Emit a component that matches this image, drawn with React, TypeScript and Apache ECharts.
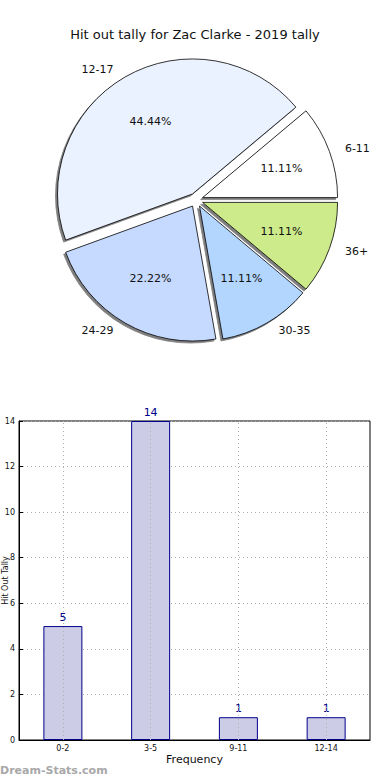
import React, { useEffect, useRef } from "react";
import * as echarts from "echarts";

const pieLabels = ["6-11", "12-17", "24-29", "30-35", "36+"];
const pieValues = [1, 4, 2, 1, 1];
const pieColors = ["#ffffff", "#ebf2ff", "#c6d9ff", "#b3d6ff", "#cdeb8b"];

const barCategories = ["0-2", "3-5", "9-11", "12-14"];
const barValues = [5, 14, 1, 1];

const titleText = "Hit out tally for Zac Clarke - 2019 tally";
const xName = "Frequency";
const yName = "Hit Out Tally";
const watermark = "Dream-Stats.com";

const FONT = "DejaVu Sans";

export default function App() {
  const ref = useRef<HTMLDivElement>(null);
  useEffect(() => {
    document.body.style.margin = "0";
    const chart = echarts.init(ref.current!, undefined, { renderer: "svg" });
    const R = 135;
    const center = [196, 200];
    const offset = 7;
    const total = pieValues.reduce((a, b) => a + b, 0);
    const option: any = {
      animation: false,
      backgroundColor: "#ffffff",
      title: {
        text: titleText,
        left: "center",
        top: 23,
        textStyle: { fontFamily: FONT, fontSize: 13, fontWeight: "normal", color: "#111" },
      },
      graphic: [
        {
          type: "text",
          left: 0,
          top: 765,
          style: {
            text: watermark,
            fontFamily: FONT,
            fontSize: 11,
            fontWeight: "bold",
            fill: "#a8a8a8",
          },
        },
      ],
      grid: {
        left: 19,
        top: 421,
        width: 351,
        height: 319,
        show: true,
        borderColor: "#000",
        borderWidth: 1,
        backgroundColor: "transparent",
        containLabel: false,
        outerBoundsMode: "none",
      },
      xAxis: {
        type: "category",
        data: barCategories,
        name: xName,
        nameLocation: "middle",
        nameGap: 14,
        nameMoveOverlap: false,
        nameTextStyle: { fontFamily: FONT, fontSize: 11, color: "#111" },
        axisLine: { show: true, lineStyle: { color: "#000" } },
        axisTick: { show: true, inside: true, alignWithLabel: true, length: 4, lineStyle: { color: "#000" } },
        axisLabel: { fontFamily: FONT, fontSize: 8, color: "#111", margin: 4 },
        splitLine: { show: false },
      },
      yAxis: {
        type: "value",
        min: 0,
        max: 14,
        interval: 2,
        name: yName,
        nameLocation: "middle",
        nameGap: 10,
        nameMoveOverlap: false,
        nameRotate: 90,
        nameTextStyle: { fontFamily: FONT, fontSize: 8, color: "#111" },
        axisLine: { show: true, lineStyle: { color: "#000" } },
        axisTick: { show: true, inside: true, length: 4, lineStyle: { color: "#000" } },
        axisLabel: { fontFamily: FONT, fontSize: 8, color: "#111", margin: 4 },
        splitLine: { show: true, lineStyle: { color: "#b0b0b0", type: [1, 3], width: 1 } },
      },
      series: [
        {
          type: "pie",
          center,
          radius: R,
          clockwise: false,
          startAngle: 0,
          selectedMode: "multiple",
          selectedOffset: offset,
          silent: true,
          itemStyle: {
            borderColor: "#000",
            borderWidth: 0.8,
            shadowColor: "rgba(0,0,0,0.5)",
            shadowBlur: 1,
            shadowOffsetX: -2,
            shadowOffsetY: 2,
          },
          label: {
            show: true,
            position: "outside",
            formatter: "{b}",
            fontFamily: FONT,
            fontSize: 11,
            color: "#111",
          },
          labelLine: { show: false, length: 9, length2: 2 },
          data: pieLabels.map((n, i) => ({
            name: n,
            value: pieValues[i],
            selected: true,
            itemStyle: { color: pieColors[i] },
          })),
        },
        {
          type: "pie",
          center,
          radius: R * 1.2,
          clockwise: false,
          startAngle: 0,
          selectedMode: "multiple",
          selectedOffset: offset,
          silent: true,
          itemStyle: { color: "transparent", borderWidth: 0 },
          label: {
            show: true,
            position: "inside",
            formatter: (p: any) => ((p.value / total) * 100).toFixed(2) + "%",
            fontFamily: FONT,
            fontSize: 11,
            color: "#111",
          },
          labelLine: { show: false },
          data: pieLabels.map((n, i) => ({ name: n, value: pieValues[i], selected: true })),
        },
        {
          type: "bar",
          data: barValues,
          barWidth: 39,
          itemStyle: { color: "#ccccE6", borderColor: "#00008b", borderWidth: 1 },
          label: {
            show: true,
            position: "top",
            distance: 3,
            fontFamily: FONT,
            fontSize: 11,
            color: "#00008b",
          },
          markLine: {
            silent: true,
            symbol: "none",
            label: { show: false },
            lineStyle: { color: "#b0b0b0", type: [1, 3], width: 1 },
            data: barCategories.map((c) => ({ xAxis: c })),
          },
        },
      ],
    };
    chart.setOption(option);
    return () => chart.dispose();
  }, []);
  return <div ref={ref} style={{ position: "fixed", left: 0, top: 0, width: 390, height: 780 }} />;
}
